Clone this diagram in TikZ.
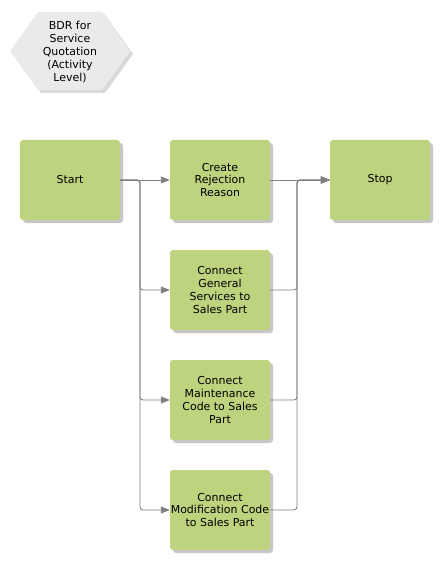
\documentclass[tikz,border=0pt]{standalone}
\usepackage{fontspec}
\setmainfont{DejaVu Sans}
\usetikzlibrary{arrows.meta,shadows,shapes.geometric}
\definecolor{boxgreen}{RGB}{189,211,125}
\definecolor{hexgray}{RGB}{234,234,234}
\definecolor{linegray}{RGB}{128,128,128}
\tikzset{
  act/.style={draw=none, fill=boxgreen, rounded corners=3bp, minimum width=100bp, minimum height=80bp,
    align=center, font=\fontsize{11}{13}\selectfont, inner sep=0pt,
    drop shadow={shadow xshift=3bp, shadow yshift=-3bp, fill=black, opacity=0.22}},
  conn/.style={draw=linegray, line width=0.9bp, rounded corners=3bp},
  arr/.style={-{Triangle[length=9bp,width=7bp]}}
}
\begin{document}
\begin{tikzpicture}[x=1bp,y=-1bp]
\useasboundingbox (0,0) rectangle (440,561);
% hexagon
\fill[black,opacity=0.15] (13,54) -- (41,15) -- (105,15) -- (133,54) -- (105,93) -- (41,93) -- cycle;
\fill[hexgray] (10,51) -- (38,12) -- (102,12) -- (130,51) -- (102,90) -- (38,90) -- cycle;
\node[align=center, font=\fontsize{11}{13}\selectfont] (title) at (70,52) {BDR for\\Service\\Quotation\\(Activity\\Level)};
% boxes
\node[act] (start) at (70,180) {Start};
\node[act] (create) at (220,180) {Create\\Rejection\\Reason};
\node[act] (stop) at (380,180) {Stop};
\node[act] (general) at (220,290) {Connect\\General\\Services to\\Sales Part};
\node[act] (maint) at (220,400) {Connect\\Maintenance\\Code to Sales\\Part};
\node[act] (modif) at (220,510) {Connect\\Modification Code\\to Sales Part};
% connectors
\coordinate (sx) at (140,180);
\coordinate (ex) at (297,180);
\draw[conn,arr] (start.east) -- (create.west);
\draw[conn,arr] (start.east) -- (sx) |- (general.west);
\draw[conn,arr] (start.east) -- (sx) |- (maint.west);
\draw[conn,arr] (start.east) -- (sx) |- (modif.west);
\draw[conn,arr] (create.east) -- (stop.west);
\draw[conn,arr] (general.east) -| (ex) -- (stop.west);
\draw[conn,arr] (maint.east) -| (ex) -- (stop.west);
\draw[conn,arr] (modif.east) -| (ex) -- (stop.west);
\end{tikzpicture}
\end{document}
